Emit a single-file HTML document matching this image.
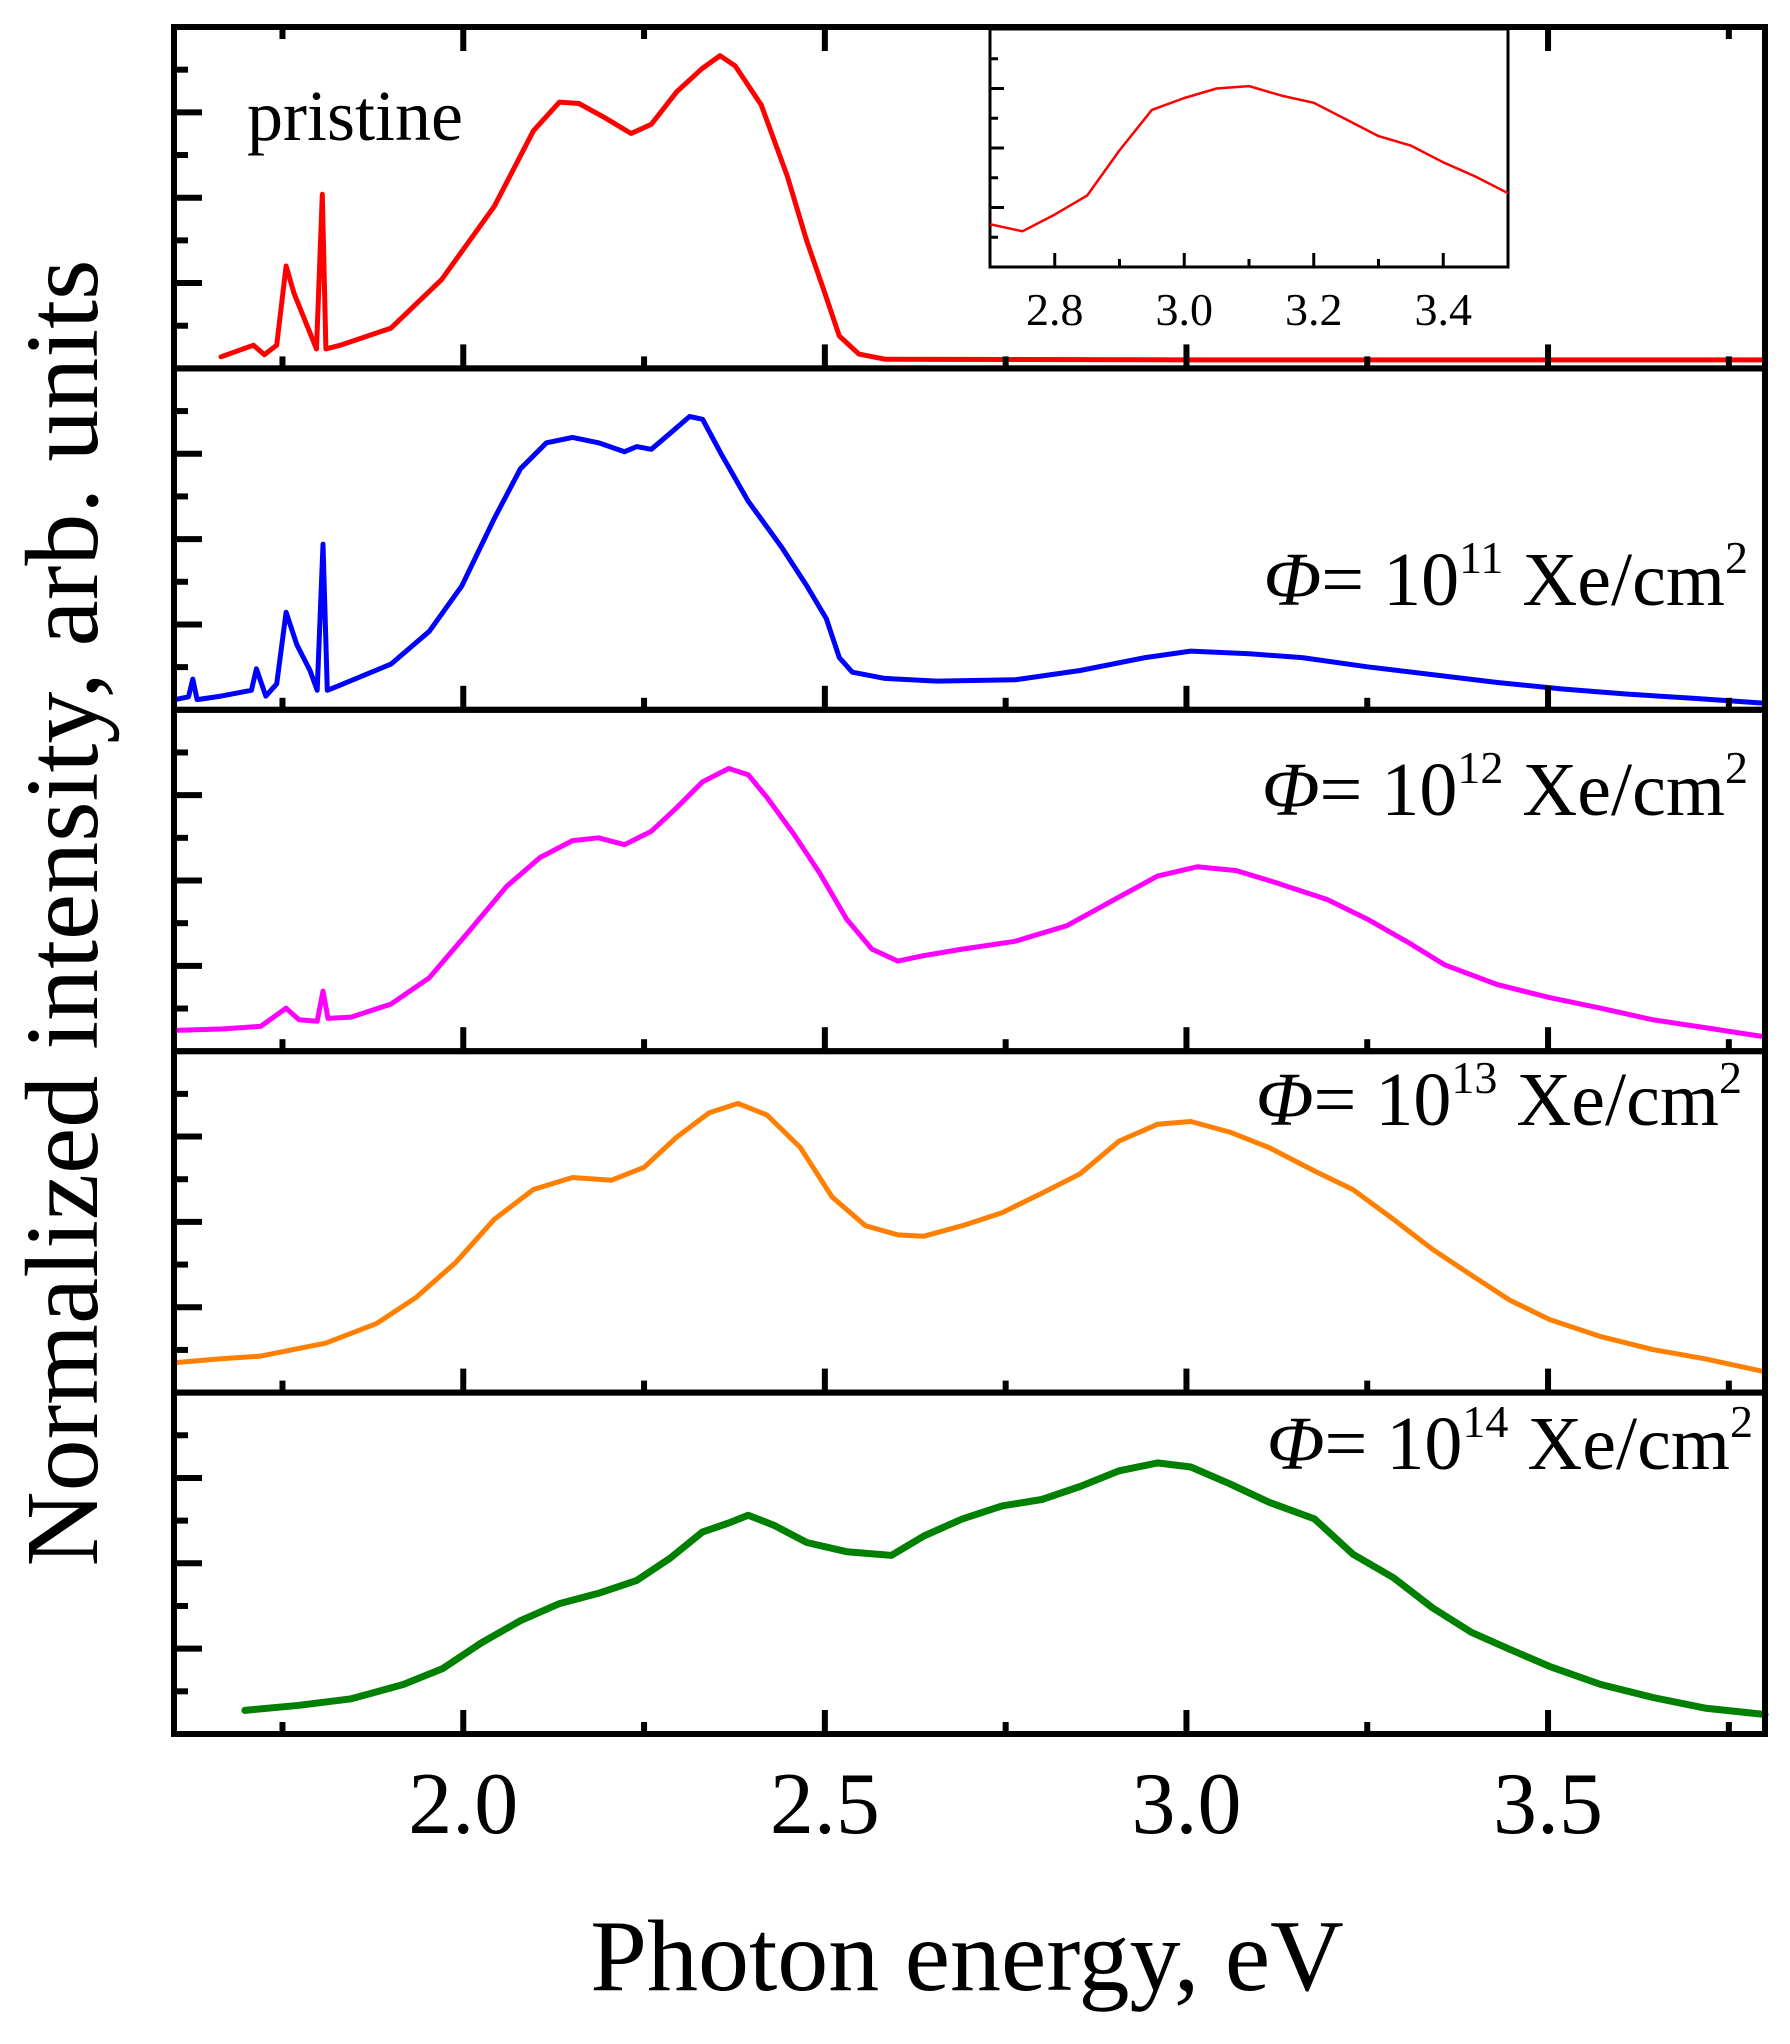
<!DOCTYPE html>
<html><head><meta charset="utf-8"><style>
html,body{margin:0;padding:0;background:#fff;}
svg{display:block;font-family:"Liberation Serif",serif;}
</style></head><body>
<svg id="chart" width="1790" height="2044" viewBox="0 0 1790 2044" xmlns="http://www.w3.org/2000/svg">
<g id="marks"></g>
<g id="axes"></g>
<text x="967" y="1990" font-size="102" text-anchor="middle">Photon energy, eV</text>
<text transform="translate(97,913) rotate(-90)" font-size="104" text-anchor="middle" textLength="1307" lengthAdjust="spacingAndGlyphs">Normalized intensity, arb. units</text>
<text x="247" y="140" font-size="72">pristine</text>
<text x="1748" y="605" font-size="76" text-anchor="end"><tspan font-style="italic">Φ</tspan>= 10<tspan font-size="46" dy="-32">11</tspan><tspan dy="32"> Xe/cm</tspan><tspan font-size="46" dy="-32">2</tspan></text>
<text x="1748" y="815" font-size="76" text-anchor="end"><tspan font-style="italic">Φ</tspan>= 10<tspan font-size="46" dy="-32">12</tspan><tspan dy="32"> Xe/cm</tspan><tspan font-size="46" dy="-32">2</tspan></text>
<text x="1742" y="1125" font-size="76" text-anchor="end"><tspan font-style="italic">Φ</tspan>= 10<tspan font-size="46" dy="-32">13</tspan><tspan dy="32"> Xe/cm</tspan><tspan font-size="46" dy="-32">2</tspan></text>
<text x="1753" y="1469" font-size="76" text-anchor="end"><tspan font-style="italic">Φ</tspan>= 10<tspan font-size="46" dy="-32">14</tspan><tspan dy="32"> Xe/cm</tspan><tspan font-size="46" dy="-32">2</tspan></text>
</svg>
<script>
// ---- data ----
const xTicks = [2.0, 2.5, 3.0, 3.5];
const xTickLabels = ["2.0", "2.5", "3.0", "3.5"];
const insetTicks = [2.8, 3.0, 3.2, 3.4];
const insetTickLabels = ["2.8", "3.0", "3.2", "3.4"];

const pristineE = [1.665,1.71,1.725,1.742,1.755,1.766,1.784,1.797,1.805,1.81,1.83,1.9,1.97,2.043,2.097,2.133,2.16,2.196,2.232,2.26,2.295,2.33,2.355,2.376,2.412,2.448,2.475,2.5,2.52,2.547,2.583,3.0,3.8];
const pristineI = [0.034,0.068,0.04,0.068,0.30,0.22,0.125,0.057,0.51,0.057,0.068,0.118,0.26,0.475,0.696,0.78,0.776,0.734,0.688,0.715,0.81,0.878,0.916,0.886,0.772,0.563,0.373,0.22,0.095,0.042,0.027,0.025,0.025];

const insetE = [2.70,2.75,2.80,2.85,2.90,2.95,3.00,3.05,3.10,3.15,3.20,3.25,3.30,3.35,3.40,3.45,3.50];
const insetI = [0.18,0.15,0.22,0.30,0.49,0.66,0.71,0.75,0.76,0.72,0.69,0.62,0.55,0.51,0.44,0.38,0.31];

const f11E = [1.602,1.62,1.626,1.632,1.665,1.707,1.714,1.727,1.742,1.755,1.77,1.788,1.798,1.806,1.812,1.827,1.9,1.953,1.998,2.043,2.079,2.115,2.151,2.187,2.223,2.24,2.26,2.286,2.313,2.331,2.358,2.394,2.44,2.475,2.502,2.52,2.538,2.583,2.655,2.763,2.853,2.943,3.006,3.087,3.16,3.25,3.34,3.43,3.52,3.61,3.70,3.8];
const f11I = [0.03,0.038,0.09,0.03,0.04,0.057,0.12,0.04,0.076,0.286,0.19,0.115,0.057,0.485,0.057,0.07,0.134,0.23,0.363,0.561,0.706,0.782,0.798,0.782,0.756,0.771,0.763,0.81,0.859,0.851,0.744,0.611,0.477,0.363,0.267,0.153,0.11,0.092,0.084,0.088,0.115,0.153,0.172,0.164,0.153,0.126,0.103,0.08,0.061,0.046,0.034,0.019];

const f12E = [1.602,1.665,1.72,1.755,1.773,1.798,1.806,1.813,1.845,1.9,1.953,2.007,2.06,2.106,2.151,2.187,2.223,2.26,2.295,2.331,2.367,2.394,2.42,2.457,2.493,2.53,2.565,2.601,2.637,2.69,2.763,2.835,2.907,2.96,3.015,3.069,3.123,3.195,3.25,3.304,3.357,3.43,3.502,3.573,3.645,3.717,3.8];
const f12I = [0.061,0.065,0.073,0.126,0.092,0.088,0.176,0.096,0.1,0.138,0.215,0.349,0.483,0.567,0.617,0.625,0.605,0.644,0.713,0.789,0.828,0.81,0.743,0.636,0.521,0.387,0.299,0.264,0.280,0.299,0.322,0.368,0.452,0.513,0.54,0.529,0.494,0.444,0.387,0.322,0.253,0.195,0.157,0.126,0.092,0.069,0.042];

const f13E = [1.602,1.665,1.72,1.81,1.88,1.935,1.99,2.043,2.097,2.151,2.205,2.25,2.295,2.34,2.38,2.42,2.466,2.51,2.556,2.601,2.637,2.69,2.745,2.8,2.853,2.907,2.96,3.006,3.06,3.114,3.177,3.23,3.286,3.34,3.394,3.447,3.502,3.573,3.645,3.717,3.8];
const f13I = [0.088,0.099,0.107,0.145,0.202,0.279,0.382,0.508,0.595,0.63,0.622,0.66,0.748,0.82,0.847,0.813,0.718,0.573,0.489,0.462,0.458,0.489,0.527,0.584,0.641,0.737,0.786,0.794,0.763,0.718,0.649,0.595,0.508,0.42,0.344,0.271,0.214,0.164,0.126,0.099,0.061];

const f14E = [1.698,1.773,1.845,1.917,1.971,2.025,2.079,2.133,2.187,2.24,2.286,2.331,2.367,2.394,2.43,2.475,2.53,2.592,2.637,2.69,2.745,2.8,2.853,2.907,2.96,3.006,3.06,3.114,3.177,3.23,3.286,3.34,3.394,3.447,3.502,3.573,3.645,3.717,3.8];
const f14I = [0.069,0.084,0.103,0.145,0.191,0.267,0.332,0.382,0.412,0.45,0.515,0.592,0.618,0.641,0.611,0.561,0.534,0.523,0.58,0.63,0.668,0.687,0.725,0.771,0.794,0.782,0.733,0.679,0.63,0.527,0.458,0.37,0.298,0.248,0.198,0.145,0.107,0.076,0.057];

// ---- scales ----
const NS = "http://www.w3.org/2000/svg";
const X0 = 174, X1 = 1765, EMIN = 1.6, EMAX = 3.8;
const TOP = 27, PH = 341.4;
function xScale(e){ return X0 + (e - EMIN) / (EMAX - EMIN) * (X1 - X0); }
function yScale(panel, v){ const b = TOP + (panel + 1) * PH; return b - v * PH; }
const IX0 = 990, IX1 = 1508, IY0 = 29, IY1 = 267, IEMIN = 2.7, IEMAX = 3.5;
function ixScale(e){ return IX0 + (e - IEMIN) / (IEMAX - IEMIN) * (IX1 - IX0); }
function iyScale(v){ return IY1 - v * (IY1 - IY0); }

const marks = document.getElementById('marks');
const axes = document.getElementById('axes');
function mk(tag, attrs, parent){
  const el = document.createElementNS(NS, tag);
  for (const k in attrs) el.setAttribute(k, attrs[k]);
  parent.appendChild(el);
  return el;
}

const series = [
  {E: pristineE, I: pristineI, c: '#ff0000', w: 5, name: 'pristine-line'},
  {E: f11E, I: f11I, c: '#0000ff', w: 5, name: 'fluence-1e11-line'},
  {E: f12E, I: f12I, c: '#ff00ff', w: 5, name: 'fluence-1e12-line'},
  {E: f13E, I: f13I, c: '#ff8000', w: 5, name: 'fluence-1e13-line'},
  {E: f14E, I: f14I, c: '#008000', w: 7, name: 'fluence-1e14-line'}
];
series.forEach((s, p) => {
  const pts = s.E.map((e, i) => xScale(e).toFixed(1) + ',' + yScale(p, s.I[i]).toFixed(1)).join(' ');
  const pl = mk('polyline', {points: pts, fill: 'none', stroke: s.c, 'stroke-width': s.w, 'stroke-linejoin': 'round', 'stroke-linecap': 'round'}, marks);
  
  
});

for (let p = 0; p < 5; p++) {
  const t = TOP + p * PH, b = t + PH;
  const r = mk('rect', {x: X0, y: t, width: X1 - X0, height: PH, fill: 'none', stroke: '#000', 'stroke-width': 6}, axes);
  
  
  for (let e = 1.75; e < 3.8; e += 0.25) {
    const major = Math.abs(e * 2 - Math.round(e * 2)) < 1e-6;
    const L = major ? 24 : 12;
    const tk = mk('line', {x1: xScale(e), x2: xScale(e), y1: b, y2: b - L, stroke: '#000', 'stroke-width': 6}, axes);
    
    
    if (p === 0) {
      const tt = mk('line', {x1: xScale(e), x2: xScale(e), y1: t, y2: t + L, stroke: '#000', 'stroke-width': 6}, axes);
      
      
    }
  }
  for (let k = 1; k < 8; k++) {
    const y = b - k * PH / 8;
    const L = (k % 2 === 0) ? 28 : 14;
    const yt = mk('line', {x1: X0, x2: X0 + L, y1: y, y2: y, stroke: '#000', 'stroke-width': 6}, axes);
    
    
  }
}
xTicks.forEach((e, i) => {
  const tx = mk('text', {x: xScale(e), y: 1833, 'font-size': 88, 'text-anchor': 'middle'}, axes);
  tx.textContent = xTickLabels[i];
  
  
});

const ibg = mk('rect', {x: IX0, y: IY0, width: IX1 - IX0, height: IY1 - IY0, fill: '#fff', stroke: '#000', 'stroke-width': 3}, axes);


const ipts = insetE.map((e, i) => ixScale(e).toFixed(1) + ',' + iyScale(insetI[i]).toFixed(1)).join(' ');
const ipl = mk('polyline', {points: ipts, fill: 'none', stroke: '#ff0000', 'stroke-width': 2.5, 'stroke-linejoin': 'round'}, axes);


for (let e = 2.8; e < 3.5; e += 0.1) {
  const major = Math.abs(e * 5 - Math.round(e * 5)) < 1e-6;
  const L = major ? 14 : 8;
  const it = mk('line', {x1: ixScale(e), x2: ixScale(e), y1: IY1, y2: IY1 - L, stroke: '#000', 'stroke-width': 3}, axes);
  
  
}
for (let k = 1; k < 8; k++) {
  const y = IY1 - k * (IY1 - IY0) / 8;
  const L = (k % 2 === 0) ? 14 : 8;
  const iyt = mk('line', {x1: IX0, x2: IX0 + L, y1: y, y2: y, stroke: '#000', 'stroke-width': 3}, axes);
  
  
}
insetTicks.forEach((e, i) => {
  const tx = mk('text', {x: ixScale(e), y: 325, 'font-size': 46, 'text-anchor': 'middle'}, axes);
  tx.textContent = insetTickLabels[i];
  
  
});
</script>
</body></html>
